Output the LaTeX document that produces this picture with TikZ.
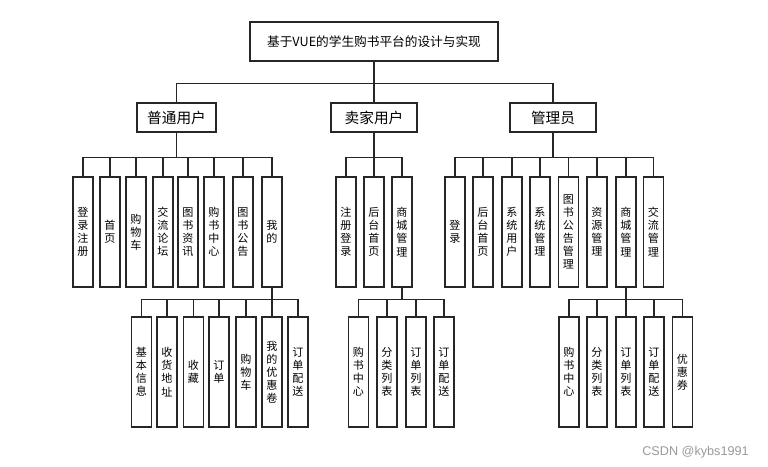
\documentclass[tikz,border=0pt]{standalone}
\usepackage{fontspec}
\setmainfont{Noto Sans CJK SC}
\newfontfamily\wmfont{Liberation Sans}
\begin{document}
\begin{tikzpicture}[x=0.75pt,y=-0.75pt,
  box/.style={draw=black!85,line width=1pt,fill=white,inner sep=0pt,align=center},
  leaf/.style={box,minimum width=15pt,minimum height=82.5pt,font=\fontsize{8.3}{9.8}\selectfont},
  lvl/.style={box,minimum height=21.75pt,font=\fontsize{11}{13}\selectfont},
  conn/.style={draw=black!85,line width=0.8pt}]
\useasboundingbox (0,0) rectangle (768,467);
\node[box,minimum width=186pt,minimum height=29.25pt,font=\fontsize{9.5}{11}\selectfont] (root) at (374,41.5) {基于VUE的学生购书平台的设计与实现};
\node[lvl,minimum width=59.25pt] (u1) at (176.5,117.5) {普通用户};
\node[lvl,minimum width=64.5pt] (u2) at (374,117.5) {卖家用户};
\node[lvl,minimum width=64.5pt] (u3) at (553,117.5) {管理员};
\foreach \n in {u1,u2,u3} \draw[conn] (root.south) -- ++(0,21.5) -| (\n.north);
% 普通用户
\foreach \x/\n/\t in {83/a1/{登\\录\\注\\册},110/a2/{首\\页},136/a3/{购\\物\\车},163/a4/{交\\流\\论\\坛},188/a5/{图\\书\\资\\讯},214/a6/{购\\书\\中\\心},243/a7/{图\\书\\公\\告},272/a8/{我\\的}}{
  \node[leaf] (\n) at (\x,232) {\t};
  \draw[conn] (u1.south) -- ++(0,25) -| (\n.north);
}
% 卖家用户
\foreach \x/\n/\t in {346/b1/{注\\册\\登\\录},374/b2/{后\\台\\首\\页},402/b3/{商\\城\\管\\理}}{
  \node[leaf] (\n) at (\x,232) {\t};
  \draw[conn] (u2.south) -- ++(0,25) -| (\n.north);
}
% 管理员
\foreach \x/\n/\t in {455/c1/{登\\录},483/c2/{后\\台\\首\\页},512/c3/{系\\统\\用\\户},540/c4/{系\\统\\管\\理},568.5/c5/{图\\书\\公\\告\\管\\理},597/c6/{资\\源\\管\\理},626/c7/{商\\城\\管\\理},653.5/c8/{交\\流\\管\\理}}{
  \node[leaf] (\n) at (\x,232) {\t};
  \draw[conn] (u3.south) -- ++(0,25) -| (\n.north);
}
% 我的
\foreach \x/\n/\t in {141.5/d1/{基\\本\\信\\息},167/d2/{收\\货\\地\\址},193.5/d3/{收\\藏},219/d4/{订\\单},246/d5/{购\\物\\车},272/d6/{我\\的\\优\\惠\\卷},298/d7/{订\\单\\配\\送}}{
  \node[leaf] (\n) at (\x,372) {\t};
  \draw[conn] (a8.south) -- ++(0,12) -| (\n.north);
}
% 卖家 商城管理
\foreach \x/\n/\t in {358.5/e1/{购\\书\\中\\心},387/e2/{分\\类\\列\\表},416/e3/{订\\单\\列\\表},444/e4/{订\\单\\配\\送}}{
  \node[leaf] (\n) at (\x,372) {\t};
  \draw[conn] (b3.south) -- ++(0,12) -| (\n.north);
}
% 管理员 商城管理
\foreach \x/\n/\t in {569/f1/{购\\书\\中\\心},597/f2/{分\\类\\列\\表},626/f3/{订\\单\\列\\表},654/f4/{订\\单\\配\\送},682.5/f5/{优\\惠\\券}}{
  \node[leaf] (\n) at (\x,372) {\t};
  \draw[conn] (c7.south) -- ++(0,12) -| (\n.north);
}
\node[anchor=west,inner sep=0pt,text=black!40,font=\wmfont\fontsize{9.5}{11}\selectfont] (wm) at (642,452) {CSDN @kybs1991};
\end{tikzpicture}
\end{document}
